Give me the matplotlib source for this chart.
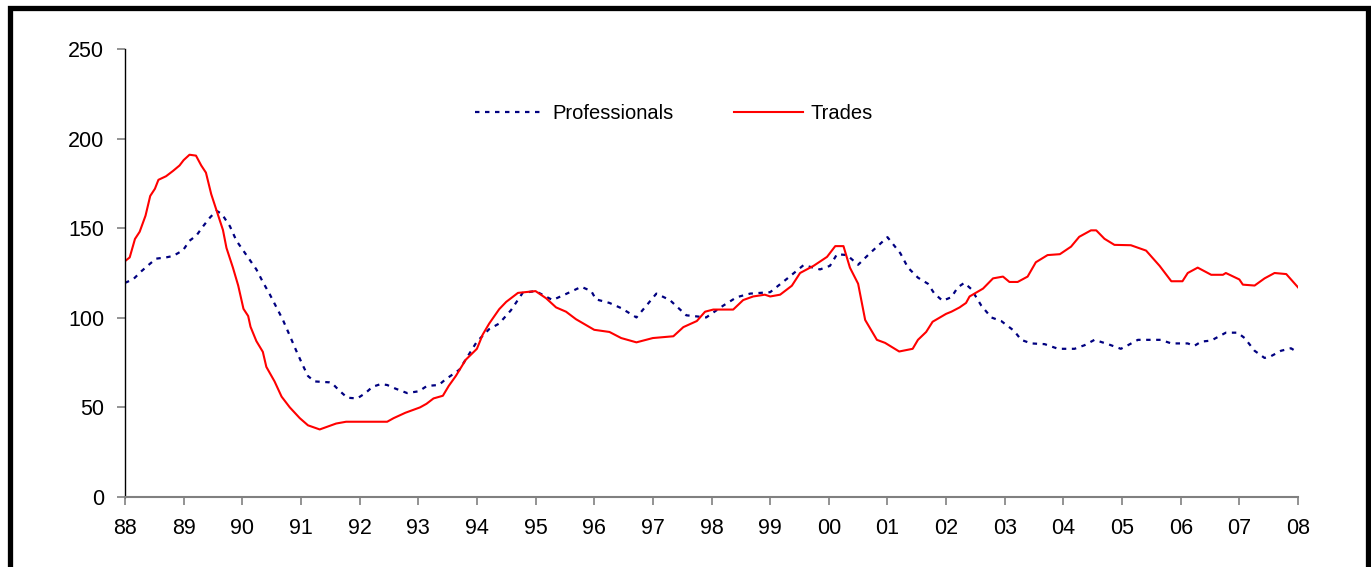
import matplotlib
matplotlib.use("Agg")
import matplotlib.pyplot as plt
from matplotlib.patches import Rectangle

plt.rcParams["font.family"] = ["Liberation Sans", "DejaVu Sans"]

# Professionals index (decimal year, value)
prof_years = [
    1988.00, 1988.14, 1988.28, 1988.42, 1988.53, 1988.70, 1988.82, 1988.99,
    1989.10, 1989.22, 1989.33, 1989.45, 1989.56, 1989.65, 1989.79, 1989.90,
    1990.07, 1990.24, 1990.35, 1990.47, 1990.58, 1990.69, 1990.81, 1990.92,
    1991.03, 1991.12, 1991.23, 1991.48, 1991.53, 1991.65, 1991.79, 1991.96,
    1992.10, 1992.22, 1992.36, 1992.47, 1992.61, 1992.81, 1993.01, 1993.15,
    1993.35, 1993.46, 1993.70, 1994.00, 1994.21, 1994.38, 1994.58, 1994.78,
    1995.00, 1995.29, 1995.52, 1995.78, 1995.95, 1996.03, 1996.26, 1996.46,
    1996.72, 1996.89, 1997.06, 1997.29, 1997.57, 1997.91, 1998.20, 1998.43,
    1998.66, 1999.00, 1999.28, 1999.57, 1999.85, 2000.02, 2000.14, 2000.31,
    2000.50, 2000.70, 2001.00, 2001.22, 2001.35, 2001.52, 2001.69, 2001.80,
    2001.94, 2002.09, 2002.20, 2002.31, 2002.43, 2002.60, 2002.77, 2002.94,
    2003.16, 2003.28, 2003.45, 2003.68, 2003.91, 2004.19, 2004.36, 2004.53,
    2004.76, 2004.98, 2005.10, 2005.27, 2005.66, 2005.84, 2006.12, 2006.23,
    2006.35, 2006.52, 2006.77, 2006.97, 2007.09, 2007.26, 2007.43, 2007.54,
    2007.71, 2007.88, 2008.00,
]
prof_values = [
    119.5, 121.5, 126, 130, 133, 133.7, 134.5, 137.7,
    143, 146, 151, 156, 159.7, 158, 151, 143,
    135, 127, 120, 113, 106, 99, 90, 81.6,
    73.6, 67.5, 64.5, 64, 63.5, 59.5, 55.4, 55,
    58, 61.5, 63, 62.5, 60.5, 58, 59, 62,
    62.5, 65.5, 71, 86.7, 93.7, 96.8, 104.2, 113.9,
    114.9, 109.9, 113.3, 117.3, 114.9, 110.3, 108.3, 105.4,
    100.2, 106.8, 113.5, 109.9, 101.4, 100.2, 106.8, 111.5,
    113.5, 114.3, 121.6, 129.4, 127, 129, 135.5, 135,
    129.6, 136, 145, 136, 128, 122.4, 119, 113.5,
    109.5, 111.5, 117, 119.5, 116, 106.8, 100.2, 98.2,
    92.7, 87.7, 85.7, 85.3, 82.7, 82.7, 84.7, 87.7,
    85.3, 82.7, 84.7, 87.7, 87.7, 85.7, 85.7, 84.3,
    86.7, 87.3, 91.7, 91.7, 88.7, 81.6, 77.6, 78.6,
    81.6, 83, 80.6,
]

# Trades index
trades_years = [
    1988.00, 1988.08, 1988.17, 1988.25, 1988.35, 1988.43, 1988.51, 1988.57,
    1988.70, 1988.82, 1988.93, 1989.00, 1989.10, 1989.21, 1989.30, 1989.38,
    1989.47, 1989.58, 1989.67, 1989.73, 1989.84, 1989.93, 1990.02, 1990.10,
    1990.14, 1990.24, 1990.35, 1990.41, 1990.55, 1990.67, 1990.81, 1990.98,
    1991.12, 1991.32, 1991.49, 1991.60, 1991.77, 1992.47, 1992.58, 1992.78,
    1993.03, 1993.14, 1993.26, 1993.42, 1993.52, 1993.64, 1993.81, 1994.00,
    1994.10, 1994.21, 1994.38, 1994.50, 1994.70, 1995.00, 1995.18, 1995.35,
    1995.52, 1995.69, 1996.00, 1996.26, 1996.46, 1996.72, 1997.00, 1997.35,
    1997.52, 1997.75, 1997.89, 1998.03, 1998.37, 1998.54, 1998.71, 1998.91,
    1999.00, 1999.17, 1999.37, 1999.51, 1999.74, 1999.97, 2000.11, 2000.25,
    2000.36, 2000.50, 2000.62, 2000.82, 2000.96, 2001.20, 2001.43, 2001.52,
    2001.66, 2001.77, 2002.00, 2002.09, 2002.23, 2002.34, 2002.40, 2002.63,
    2002.80, 2002.97, 2003.08, 2003.22, 2003.39, 2003.53, 2003.73, 2003.94,
    2004.13, 2004.27, 2004.47, 2004.56, 2004.70, 2004.87, 2005.15, 2005.41,
    2005.64, 2005.84, 2006.03, 2006.12, 2006.29, 2006.52, 2006.72, 2006.77,
    2007.00, 2007.06, 2007.26, 2007.43, 2007.60, 2007.80, 2008.00,
]
trades_values = [
    131.6, 133.7, 144, 148, 157, 168, 172, 177,
    179, 182, 185, 188, 191, 190.5, 185, 181,
    169, 158, 149, 139, 128, 118, 105, 101,
    95, 87, 81, 72.6, 64.5, 56, 50, 44,
    40, 37.7, 39.7, 41, 42, 42, 44, 47,
    50, 52, 55, 56.5, 62, 67.5, 76.6, 82.7,
    90.7, 96.8, 104.8, 108.9, 113.9, 114.9, 110.9, 105.8,
    103.4, 99.2, 93.3, 92.1, 88.7, 86.3, 88.7, 89.7,
    94.8, 98.2, 103.4, 104.6, 104.6, 109.9, 111.9, 112.9,
    111.9, 112.9, 117.9, 125, 129, 134, 140, 140,
    128, 119, 98.8, 87.7, 86, 81.2, 82.7, 87.7,
    92.1, 97.8, 102.2, 103.4, 105.8, 108.3, 111.9, 116.3,
    122, 123, 120, 120, 123, 131, 135, 135.5,
    139.7, 145.2, 148.8, 148.8, 144.1, 140.7, 140.5, 137.5,
    129, 120.4, 120.4, 125, 128, 124, 124, 125,
    121.4, 118.5, 118, 122, 125, 124.4, 117,
]

tick_years = list(range(1988, 2009))
tick_labels = [f"{y % 100:02d}" for y in tick_years]
y_ticks = [0, 50, 100, 150, 200, 250]

fig = plt.figure(figsize=(13.71, 5.67), dpi=100)
ax = fig.add_axes([125 / 1371, 1 - 497 / 567, (1298 - 125) / 1371, (497 - 49) / 567])

ax.plot(prof_years, prof_values, color="#000080", linewidth=1.6,
        linestyle=(0, (2.0, 2.5)), label="Professionals")
ax.plot(trades_years, trades_values, color="#ff0000", linewidth=1.5,
        label="Trades")

ax.set_xlim(1988, 2008)
ax.set_ylim(0, 250)
ax.set_xticks(tick_years)
ax.set_xticklabels(tick_labels)
ax.set_yticks(y_ticks)

for side in ["top", "right"]:
    ax.spines[side].set_visible(False)
ax.spines["left"].set_color("black")
ax.spines["left"].set_linewidth(1.0)
ax.spines["bottom"].set_color("#808080")
ax.spines["bottom"].set_linewidth(1.5)

ax.tick_params(axis="x", direction="out", length=6, width=1.2, color="#808080",
               labelsize=15.5, pad=9)
ax.tick_params(axis="y", direction="out", length=6, width=1.2, color="#808080",
               labelsize=15.5, pad=9)

ax.legend(loc="center", bbox_to_anchor=(0.468, 0.855), ncol=2, frameon=False,
          fontsize=14.5, handlelength=3.45, handletextpad=0.35, columnspacing=3.0)

# thick black frame around the figure (open at the bottom)
frame = Rectangle((9.5 / 1371, -0.05), (1368 - 9.5) / 1371, 1.05 - 8 / 567,
                  transform=fig.transFigure, fill=False, edgecolor="black",
                  linewidth=3.8, clip_on=False)
fig.patches.append(frame)

fig.savefig("out.png", dpi=100)
plt.close(fig)
